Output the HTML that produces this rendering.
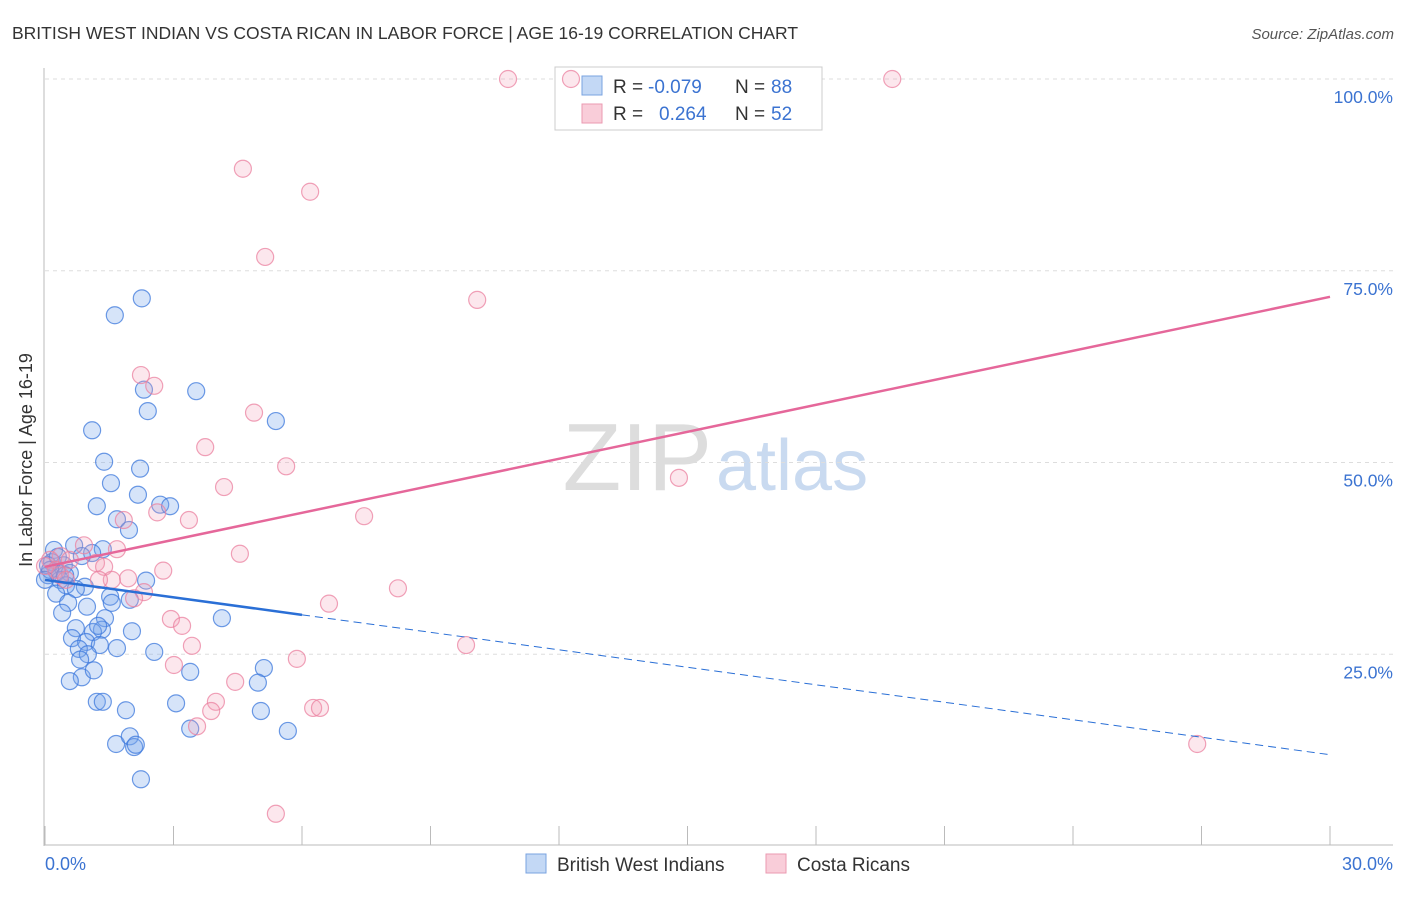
<!DOCTYPE html>
<html><head><meta charset="utf-8"><style>
body{margin:0;background:#fff;font-family:"Liberation Sans",sans-serif}
svg text{font-family:"Liberation Sans",sans-serif}
</style></head><body>
<svg id="c" width="1406" height="892">
<text x="12" y="39" font-size="17.5" fill="#333">BRITISH WEST INDIAN VS COSTA RICAN IN LABOR FORCE | AGE 16-19 CORRELATION CHART</text>
<text x="1394" y="39" font-size="15" fill="#555" font-style="italic" text-anchor="end">Source: ZipAtlas.com</text>
<text x="712" y="490" font-size="96" fill="#ddd" text-anchor="end" font-family="Liberation Serif">ZIP</text>
<text x="716" y="490" font-size="72" fill="#c9daf0">atlas</text>
<g id="grid"></g>
<g>
<rect x="555" y="67" width="267" height="63" fill="#fff" stroke="#ccc"/>
<rect x="582" y="76" width="20" height="19" fill="#c3d8f5" stroke="#7aa3e0"/>
<rect x="582" y="104" width="20" height="19" fill="#f9cdd9" stroke="#eb9ab1"/>
<text x="613" y="93" font-size="19" fill="#333">R =</text>
<text x="648" y="93" font-size="19" fill="#3b73d1">-0.079</text>
<text x="735" y="93" font-size="19" fill="#333">N =</text>
<text x="771" y="93" font-size="19" fill="#3b73d1">88</text>
<text x="613" y="120" font-size="19" fill="#333">R =</text>
<text x="659" y="120" font-size="19" fill="#3b73d1">0.264</text>
<text x="735" y="120" font-size="19" fill="#333">N =</text>
<text x="771" y="120" font-size="19" fill="#3b73d1">52</text>
</g>
<g id="pts"></g><g id="lines"></g>
<text x="32" y="460" font-size="18" fill="#333" transform="rotate(-90 32 460)" text-anchor="middle">In Labor Force | Age 16-19</text>
<text x="45" y="870" font-size="18" fill="#3b73d1">0.0%</text>
<text x="1393" y="870" font-size="18" fill="#3b73d1" text-anchor="end">30.0%</text>
<g>
<rect x="526" y="854" width="20" height="19" fill="#c3d8f5" stroke="#7aa3e0"/>
<text x="557" y="871" font-size="19" fill="#333">British West Indians</text>
<rect x="766" y="854" width="20" height="19" fill="#f9cdd9" stroke="#eb9ab1"/>
<text x="797" y="871" font-size="19" fill="#333">Costa Ricans</text>
</g>
</svg>
<script>
const yTicks=[25,50,75,100];
const xTickCount=[0,3,6,9,12,15,18,21,24,27,30];
const blueX=[2.26,1.63,2.31,3.53,2.40,1.10,5.39,1.38,2.22,1.54,2.17,1.21,2.69,2.92,1.68,1.96,0.21,0.68,1.35,1.10,0.86,0.16,0.44,0.28,0.58,0.07,0.35,0.49,0.93,0.72,0.26,2.36,1.52,1.98,0.54,1.56,0.98,0.40,1.40,4.13,0.72,2.03,1.33,1.12,1.24,0.63,0.96,1.28,1.68,0.79,2.55,1.00,0.82,0.86,1.14,3.39,5.11,0.58,1.21,1.35,1.89,3.06,4.97,5.04,3.39,5.67,1.66,1.98,2.08,2.12,2.24,0.07,0.12,0.30,0.47,0];
const blueY=[71.4,69.2,59.5,59.3,56.7,54.2,55.4,50.1,49.2,47.3,45.8,44.3,44.5,44.3,42.6,41.2,38.6,39.2,38.7,38.2,37.8,37.0,36.6,35.7,35.6,35.3,34.7,34.0,33.8,33.5,32.9,34.6,32.5,32.1,31.7,31.7,31.2,30.4,29.7,29.7,28.4,28.0,28.2,27.9,28.7,27.1,26.6,26.2,25.8,25.7,25.3,25.0,24.3,22.0,22.9,22.7,23.2,21.5,18.8,18.8,17.7,18.6,21.3,17.6,15.3,15.0,13.3,14.3,12.9,13.2,8.7,36.6,36.0,37.7,35.3,34.7];
const pinkX=[10.81,12.28,19.78,4.62,6.19,5.14,10.09,2.24,2.55,4.88,3.74,5.63,4.18,14.80,2.62,3.36,7.45,1.84,0.91,1.68,0.37,4.55,0.12,0.58,1.19,1.38,2.76,0,0.26,1.94,1.56,1.26,8.24,2.31,2.08,6.63,2.94,3.20,3.43,9.83,5.88,3.01,4.44,3.99,3.88,6.26,6.42,3.55,26.9,5.39,0.35,0.49];
const pinkY=[100,100,100,88.3,85.3,76.8,71.2,61.4,60.0,56.5,52.0,49.5,46.8,48.0,43.5,42.5,43.0,42.5,39.2,38.7,37.8,38.1,37.3,37.3,36.9,36.4,35.9,36.5,36.0,34.9,34.7,34.7,33.6,33.1,32.3,31.6,29.6,28.7,26.1,26.2,24.4,23.6,21.4,18.8,17.6,18.0,18.0,15.6,13.3,4.2,35.3,34.7];
const blueTrend=[34.7,11.9]; const blueSolidEnd=6;
const pinkTrend=[36.4,71.6];
const X=v=>45+v/30*1285, Y=v=>846-v*7.67;
const NS='http://www.w3.org/2000/svg';
function mk(t,a,p){const e=document.createElementNS(NS,t);for(const k in a)e.setAttribute(k,a[k]);p.appendChild(e);return e;}
const grid=document.getElementById('grid');
mk('line',{x1:44,y1:68,x2:44,y2:846,stroke:'#bbb'},grid);
mk('line',{x1:44,y1:845,x2:1393,y2:845,stroke:'#bbb'},grid);
yTicks.forEach(t=>{
 const l=mk('line',{x1:45,y1:Y(t),x2:1393,y2:Y(t),stroke:'#ddd','stroke-dasharray':'4,4'},grid);
 
 
 const tx=mk('text',{x:1393,y:Y(t)+24,'font-size':17.5,fill:'#3b73d1','text-anchor':'end'},grid);
 tx.textContent=t.toFixed(1)+'%';
 
 
});
xTickCount.forEach(t=>{
 const l=mk('line',{x1:X(t),y1:826,x2:X(t),y2:845,stroke:'#bbb'},grid);
 
 
});
const pts=document.getElementById('pts');
function draw(xs,ys,fill,stroke,name){xs.forEach((x,i)=>{
 const c=mk('circle',{cx:X(x),cy:Y(ys[i]),r:8.5,fill:fill,stroke:stroke,'stroke-width':1.2},pts);
 
 
});}
draw(blueX,blueY,'rgba(120,165,235,0.3)','rgba(60,120,220,0.75)','british-west-indian-point');
draw(pinkX,pinkY,'rgba(245,160,185,0.25)','rgba(235,130,160,0.75)','costa-rican-point');
const lines=document.getElementById('lines');
const bAt=x=>blueTrend[0]+(blueTrend[1]-blueTrend[0])*x/30;
let l=mk('line',{x1:X(0),y1:Y(bAt(0)),x2:X(blueSolidEnd),y2:Y(bAt(blueSolidEnd)),stroke:'#2a6fd6','stroke-width':2.5},lines);


l=mk('line',{x1:X(blueSolidEnd),y1:Y(bAt(blueSolidEnd)),x2:X(30),y2:Y(bAt(30)),stroke:'#2a6fd6','stroke-width':1,'stroke-dasharray':'8,5'},lines);


l=mk('line',{x1:X(0),y1:Y(pinkTrend[0]),x2:X(30),y2:Y(pinkTrend[1]),stroke:'#e5679a','stroke-width':2.5},lines);


</script>
</body></html>
